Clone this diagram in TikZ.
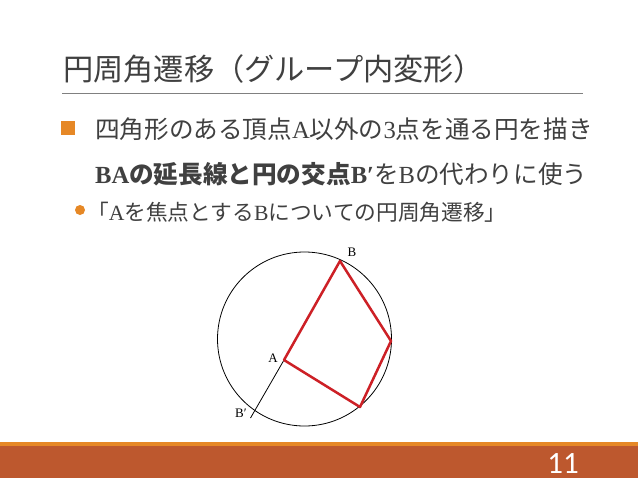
\documentclass[tikz,border=0pt]{standalone}
\usepackage{fontspec}
\usetikzlibrary{positioning}
\setmainfont{Liberation Serif}
\newfontfamily\jpfont{Noto Sans CJK JP}
\newfontfamily\pagefont{Carlito}
\definecolor{darktext}{RGB}{64,64,64}
\definecolor{accent}{RGB}{230,136,38}
\definecolor{footer}{RGB}{189,88,46}
\definecolor{rulegray}{RGB}{128,128,128}
\definecolor{edgered}{RGB}{205,32,38}
\newcommand{\ltn}[1]{{\rmfamily #1}}
\tikzset{
    heading/.style={
        anchor=west, inner sep=0pt,
        font=\jpfont\fontsize{30.2}{33}\selectfont,
        text=darktext
    },
    item/.style={
        anchor=west, inner sep=0pt,
        font=\jpfont\fontsize{24.6}{28}\selectfont,
        text=darktext
    },
    subitem/.style={
        anchor=west, inner sep=0pt,
        font=\jpfont\fontsize{21.7}{25}\selectfont,
        text=darktext
    },
    square bullet/.style={
        rectangle, fill=accent, inner sep=0pt,
        minimum size=14pt
    },
    round bullet/.style={
        circle, fill=accent, inner sep=0pt,
        minimum size=10pt
    },
    pt label/.style={
        font=\rmfamily\fontsize{13}{15}\selectfont,
        inner sep=1pt, text=black
    },
    quad edge/.style={
        draw=edgered, line width=2.5pt, line join=round
    },
    thin line/.style={
        draw=black, line width=0.8pt
    },
    page number/.style={
        font=\pagefont\fontsize{31}{32}\selectfont,
        text=white, inner sep=0pt, anchor=base
    }
}

\begin{document}
\begin{tikzpicture}[x=1pt,y=-1pt]
    \useasboundingbox (0,0) rectangle (638,479);
    \fill[white] (0,0) rectangle (638,479);

    \node[heading] (title) at (63,69) {円周角遷移（グループ内変形）};
    \coordinate (ruleL) at (62,93);
    \coordinate (ruleR) at (583,93);
    \draw[rulegray, line width=1pt] (ruleL) -- (ruleR);

    \node[square bullet] (mark1) at (68,128) {};
    \node[item] (line1) at (95,129) {四角形のある頂点\ltn{A}以外の\ltn{3}点を通る円を描き};
    \node[item] (line2) at (95,174) {{\bfseries\ltn{BA}の延長線と円の交点\ltn{B′}}を\ltn{B}の代わりに使う};
    \node[round bullet] (mark2) at (80,210) {};
    \node[subitem] (line3) at (87,212) {「\ltn{A}を焦点とする\ltn{B}についての円周角遷移」};

    \coordinate (O) at (304.5,339);
    \coordinate (A) at (284,360);
    \coordinate (B) at (340,261);
    \coordinate (C) at (391,341);
    \coordinate (D) at (360,407);
    \coordinate (Bp) at (250.5,418);
    \draw[thin line] (O) circle[radius=87pt];
    \draw[thin line] (A) -- (Bp);
    \draw[quad edge] (B) -- (C) -- (D) -- (A) -- cycle;
    \node[pt label] (labB) at (352,252) {B};
    \node[pt label] (labA) at (273,358) {A};
    \node[pt label] (labBp) at (241,413) {B′};

    \fill[accent] (0,442) rectangle (638,446);
    \fill[footer] (0,446) rectangle (638,478);
    \node[page number] (pageno) at (563,473) {11};
\end{tikzpicture}
\end{document}
